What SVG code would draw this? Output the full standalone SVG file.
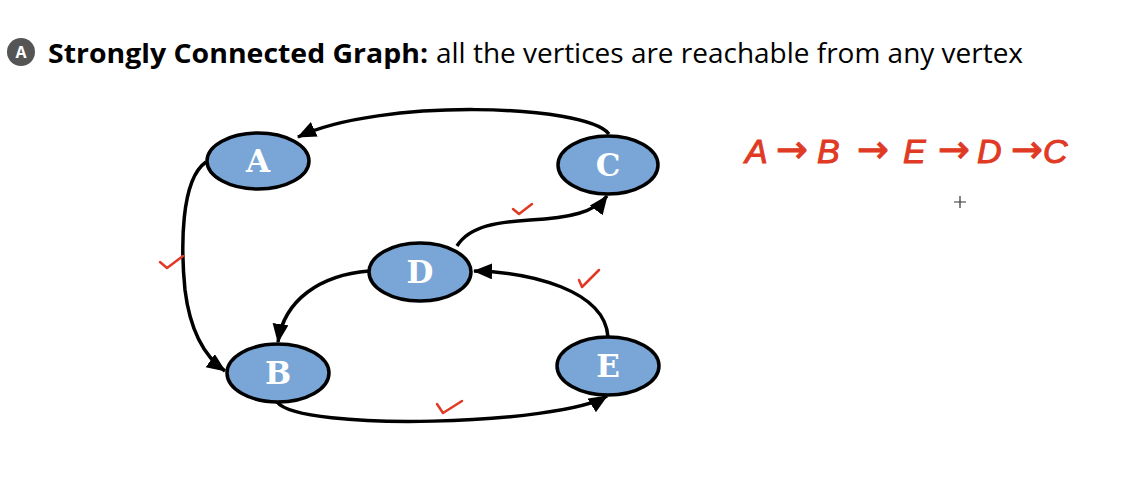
<svg xmlns="http://www.w3.org/2000/svg" width="1124" height="486" viewBox="0 0 1124 486">
<style>
.node{fill:#79a6d6;stroke:#000;stroke-width:3.5}
.lbl{font-family:"DejaVu Serif",serif;font-weight:bold;font-size:31px;fill:#fff;text-anchor:middle}
.edge{fill:none;stroke:#000;stroke-width:3.5;marker-end:url(#ah)}
.chk{fill:none;stroke:#e03a25;stroke-width:2.5;stroke-linecap:round;stroke-linejoin:round}
.title{font-family:"Open Sans","Noto Sans",sans-serif;font-size:27px;fill:#000}
.hand{font-family:"Liberation Sans",sans-serif;font-style:italic;font-size:34px;fill:#e03a25;stroke:#e03a25;stroke-width:1}
.arr{font-family:"DejaVu Sans",sans-serif;font-style:normal;font-size:38px}
</style>
<defs>
<marker id="ah" markerUnits="userSpaceOnUse" markerWidth="22" markerHeight="18" refX="18" refY="8" orient="auto">
<path d="M0,0 L19,8 L0,16 Z" fill="#000"/>
</marker>
</defs>
<g id="title">
<circle cx="21" cy="52" r="14" fill="#555"/>
<text x="21" y="58" font-family="Open Sans,sans-serif" font-weight="bold" font-size="16" fill="#fff" text-anchor="middle">A</text>
<text class="title" x="48" y="63"><tspan font-weight="bold" textLength="380" lengthAdjust="spacingAndGlyphs">Strongly Connected Graph:</tspan><tspan x="436" textLength="587" lengthAdjust="spacingAndGlyphs">all the vertices are reachable from any vertex</tspan></text>
</g>
<g id="connectors">
<path class="edge" d="M609,134 C585,104 380,98 298,137"/>
<path class="edge" d="M206,162 C180,180 181,250 185,290 C190,330 205,357 225,371"/>
<path class="edge" d="M457,246 C470,225 500,222 530,220 C570,218 595,212 607,196"/>
<path class="edge" d="M369,271 C320,275 284,300 278,342"/>
<path class="edge" d="M608,337 C605,290 530,272 474,271"/>
<path class="edge" d="M277,402 C300,432 560,425 607,396"/>
</g>
<g id="A"><ellipse class="node" cx="258" cy="161" rx="51" ry="28"/><text class="lbl" x="258" y="172">A</text></g>
<g id="C"><ellipse class="node" cx="608" cy="165" rx="50" ry="29"/><text class="lbl" x="608" y="176">C</text></g>
<g id="D"><ellipse class="node" cx="420" cy="272" rx="51" ry="29"/><text class="lbl" x="420" y="283">D</text></g>
<g id="B"><ellipse class="node" cx="278" cy="373" rx="51" ry="29"/><text class="lbl" x="278" y="384">B</text></g>
<g id="E"><ellipse class="node" cx="608" cy="366" rx="51" ry="29"/><text class="lbl" x="608" y="377">E</text></g>
<g id="checks">
<path class="chk" d="M160,262 L167,268 L183,256"/>
<path class="chk" d="M513,209 L519,214 L532,204"/>
<path class="chk" d="M579,280 L582,287 L599,270"/>
<path class="chk" d="M437,404 L443,413 L462,401"/>
</g>
<g id="annotation">
<text class="hand" y="163"><tspan x="745">A</tspan><tspan class="arr" x="776" y="162">→</tspan><tspan x="817" y="163">B</tspan><tspan class="arr" x="857" y="162">→</tspan><tspan x="903" y="163">E</tspan><tspan class="arr" x="938" y="162">→</tspan><tspan x="977" y="163">D</tspan><tspan class="arr" x="1011" y="162">→</tspan><tspan x="1043" y="163">C</tspan></text>
<path d="M960,196 V208 M954,202 H966" stroke="#333" stroke-width="1.2"/>
</g>
</svg>
